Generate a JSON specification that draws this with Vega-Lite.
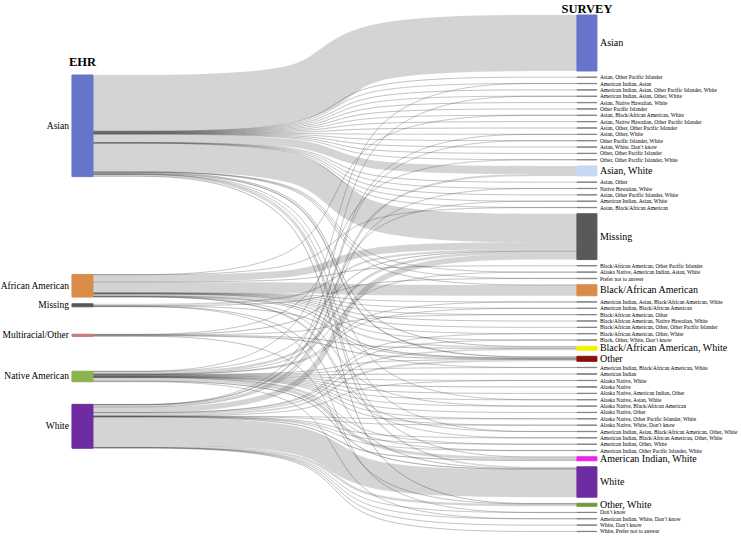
{
"$schema": "https://vega.github.io/schema/vega-lite/v6.json",
"width": 741, "height": 538, "padding": 0, "autosize": {"type": "none"},
"background": "white",
"config": {"view": {"stroke": null}, "font": "Liberation Serif"},
"datasets": {
"left": [
{"name": "Asian", "lo": 0}, {"name": "African American", "lo": 1}, {"name": "Missing", "lo": 2},
{"name": "Multiracial/Other", "lo": 3}, {"name": "Native American", "lo": 4}, {"name": "White", "lo": 5}],
"right": [
{"name": "Asian", "ro": 0},
{"name": "Asian, Other Pacific Islander", "ro": 1},
{"name": "American Indian, Asian", "ro": 2},
{"name": "American Indian, Asian, Other Pacific Islander, White", "ro": 3},
{"name": "American Indian, Asian, Other, White", "ro": 4},
{"name": "Asian, Native Hawaiian, White", "ro": 5},
{"name": "Other Pacific Islander", "ro": 6},
{"name": "Asian, Black/African American, White", "ro": 7},
{"name": "Asian, Native Hawaiian, Other Pacific Islander", "ro": 8},
{"name": "Asian, Other, Other Pacific Islander", "ro": 9},
{"name": "Asian, Other, White", "ro": 10},
{"name": "Other Pacific Islander, White", "ro": 11},
{"name": "Asian, White, Don’t know", "ro": 12},
{"name": "Other, Other Pacific Islander", "ro": 13},
{"name": "Other, Other Pacific Islander, White", "ro": 14},
{"name": "Asian, White", "ro": 15},
{"name": "Asian, Other", "ro": 16},
{"name": "Native Hawaiian, White", "ro": 17},
{"name": "Asian, Other Pacific Islander, White", "ro": 18},
{"name": "American Indian, Asian, White", "ro": 19},
{"name": "Asian, Black/African American", "ro": 20},
{"name": "Missing", "ro": 21},
{"name": "Black/African American, Other Pacific Islander", "ro": 22},
{"name": "Alaska Native, American Indian, Asian, White", "ro": 23},
{"name": "Prefer not to answer", "ro": 24},
{"name": "Black/African American", "ro": 25},
{"name": "American Indian, Asian, Black/African American, White", "ro": 26},
{"name": "American Indian, Black/African American", "ro": 27},
{"name": "Black/African American, Other", "ro": 28},
{"name": "Black/African American, Native Hawaiian, White", "ro": 29},
{"name": "Black/African American, Other, Other Pacific Islander", "ro": 30},
{"name": "Black/African American, Other, White", "ro": 31},
{"name": "Black, Other, White, Don’t know", "ro": 32},
{"name": "Black/African American, White", "ro": 33},
{"name": "Other", "ro": 34},
{"name": "American Indian, Black/African American, White", "ro": 35},
{"name": "American Indian", "ro": 36},
{"name": "Alaska Native, White", "ro": 37},
{"name": "Alaska Native", "ro": 38},
{"name": "Alaska Native, American Indian, Other", "ro": 39},
{"name": "Alaska Native, Asian, White", "ro": 40},
{"name": "Alaska Native, Black/African American", "ro": 41},
{"name": "Alaska Native, Other", "ro": 42},
{"name": "Alaska Native, Other Pacific Islander, White", "ro": 43},
{"name": "Alaska Native, White, Don’t know", "ro": 44},
{"name": "American Indian, Asian, Black/African American, Other, White", "ro": 45},
{"name": "American Indian, Black/African American, Other, White", "ro": 46},
{"name": "American Indian, Other, White", "ro": 47},
{"name": "American Indian, Other Pacific Islander, White", "ro": 48},
{"name": "American Indian, White", "ro": 49},
{"name": "White", "ro": 50},
{"name": "Other, White", "ro": 51},
{"name": "Don’t know", "ro": 52},
{"name": "American Indian, White, Don’t know", "ro": 53},
{"name": "White, Don’t know", "ro": 54},
{"name": "White, Prefer not to answer", "ro": 55}],
"links": [
{"s": "Asian", "t": "Asian", "v": 56},
{"s": "Asian", "t": "Asian, Other Pacific Islander", "v": 0.3},
{"s": "Asian", "t": "American Indian, Asian", "v": 0.15},
{"s": "Native American", "t": "American Indian, Asian", "v": 0.15},
{"s": "Asian", "t": "American Indian, Asian, Other Pacific Islander, White", "v": 0.3},
{"s": "Asian", "t": "American Indian, Asian, Other, White", "v": 0.15},
{"s": "White", "t": "American Indian, Asian, Other, White", "v": 0.15},
{"s": "Asian", "t": "Asian, Native Hawaiian, White", "v": 0.3},
{"s": "Asian", "t": "Other Pacific Islander", "v": 0.3},
{"s": "Asian", "t": "Asian, Black/African American, White", "v": 0.15},
{"s": "African American", "t": "Asian, Black/African American, White", "v": 0.15},
{"s": "Asian", "t": "Asian, Native Hawaiian, Other Pacific Islander", "v": 0.3},
{"s": "Asian", "t": "Asian, Other, Other Pacific Islander", "v": 0.3},
{"s": "Asian", "t": "Asian, Other, White", "v": 0.15},
{"s": "White", "t": "Asian, Other, White", "v": 0.15},
{"s": "Asian", "t": "Other Pacific Islander, White", "v": 0.15},
{"s": "White", "t": "Other Pacific Islander, White", "v": 0.15},
{"s": "Asian", "t": "Asian, White, Don’t know", "v": 0.3},
{"s": "Asian", "t": "Other, Other Pacific Islander", "v": 0.3},
{"s": "Asian", "t": "Other, Other Pacific Islander, White", "v": 0.15},
{"s": "Multiracial/Other", "t": "Other, Other Pacific Islander, White", "v": 0.15},
{"s": "Asian", "t": "Asian, White", "v": 8},
{"s": "White", "t": "Asian, White", "v": 2},
{"s": "Asian", "t": "Asian, Other", "v": 0.3},
{"s": "Asian", "t": "Native Hawaiian, White", "v": 0.15},
{"s": "White", "t": "Native Hawaiian, White", "v": 0.15},
{"s": "Asian", "t": "Asian, Other Pacific Islander, White", "v": 0.3},
{"s": "Asian", "t": "American Indian, Asian, White", "v": 0.15},
{"s": "Native American", "t": "American Indian, Asian, White", "v": 0.15},
{"s": "Asian", "t": "Asian, Black/African American", "v": 0.15},
{"s": "African American", "t": "Asian, Black/African American", "v": 0.15},
{"s": "Asian", "t": "Missing", "v": 28.5},
{"s": "African American", "t": "Missing", "v": 7},
{"s": "Missing", "t": "Missing", "v": 1.8},
{"s": "Multiracial/Other", "t": "Missing", "v": 0.5},
{"s": "Native American", "t": "Missing", "v": 2.5},
{"s": "White", "t": "Missing", "v": 5.5},
{"s": "African American", "t": "Black/African American, Other Pacific Islander", "v": 0.3},
{"s": "Native American", "t": "Alaska Native, American Indian, Asian, White", "v": 0.15},
{"s": "Asian", "t": "Alaska Native, American Indian, Asian, White", "v": 0.15},
{"s": "Asian", "t": "Prefer not to answer", "v": 0.1},
{"s": "Missing", "t": "Prefer not to answer", "v": 0.3},
{"s": "African American", "t": "Black/African American", "v": 10.7},
{"s": "Asian", "t": "Black/African American", "v": 0.3},
{"s": "African American", "t": "American Indian, Asian, Black/African American, White", "v": 0.15},
{"s": "Native American", "t": "American Indian, Asian, Black/African American, White", "v": 0.15},
{"s": "African American", "t": "American Indian, Black/African American", "v": 0.15},
{"s": "Native American", "t": "American Indian, Black/African American", "v": 0.15},
{"s": "African American", "t": "Black/African American, Other", "v": 0.15},
{"s": "Multiracial/Other", "t": "Black/African American, Other", "v": 0.15},
{"s": "African American", "t": "Black/African American, Native Hawaiian, White", "v": 0.3},
{"s": "African American", "t": "Black/African American, Other, Other Pacific Islander", "v": 0.3},
{"s": "African American", "t": "Black/African American, Other, White", "v": 0.15},
{"s": "White", "t": "Black/African American, Other, White", "v": 0.15},
{"s": "African American", "t": "Black, Other, White, Don’t know", "v": 0.15},
{"s": "White", "t": "Black, Other, White, Don’t know", "v": 0.15},
{"s": "Asian", "t": "Black/African American, White", "v": 0.5},
{"s": "African American", "t": "Black/African American, White", "v": 1.5},
{"s": "Multiracial/Other", "t": "Black/African American, White", "v": 0.5},
{"s": "White", "t": "Black/African American, White", "v": 1.5},
{"s": "Asian", "t": "Other", "v": 1.2},
{"s": "African American", "t": "Other", "v": 0.8},
{"s": "Missing", "t": "Other", "v": 0.4},
{"s": "Multiracial/Other", "t": "Other", "v": 0.6},
{"s": "Native American", "t": "Other", "v": 0.3},
{"s": "White", "t": "Other", "v": 1.7},
{"s": "African American", "t": "American Indian, Black/African American, White", "v": 0.15},
{"s": "Native American", "t": "American Indian, Black/African American, White", "v": 0.15},
{"s": "Native American", "t": "American Indian", "v": 0.6},
{"s": "Native American", "t": "Alaska Native, White", "v": 0.15},
{"s": "White", "t": "Alaska Native, White", "v": 0.15},
{"s": "Native American", "t": "Alaska Native", "v": 0.5},
{"s": "Native American", "t": "Alaska Native, American Indian, Other", "v": 0.3},
{"s": "Native American", "t": "Alaska Native, Asian, White", "v": 0.15},
{"s": "Asian", "t": "Alaska Native, Asian, White", "v": 0.15},
{"s": "Native American", "t": "Alaska Native, Black/African American", "v": 0.15},
{"s": "African American", "t": "Alaska Native, Black/African American", "v": 0.15},
{"s": "Native American", "t": "Alaska Native, Other", "v": 0.3},
{"s": "Native American", "t": "Alaska Native, Other Pacific Islander, White", "v": 0.15},
{"s": "White", "t": "Alaska Native, Other Pacific Islander, White", "v": 0.15},
{"s": "Native American", "t": "Alaska Native, White, Don’t know", "v": 0.15},
{"s": "White", "t": "Alaska Native, White, Don’t know", "v": 0.15},
{"s": "African American", "t": "American Indian, Asian, Black/African American, Other, White", "v": 0.15},
{"s": "Asian", "t": "American Indian, Asian, Black/African American, Other, White", "v": 0.15},
{"s": "African American", "t": "American Indian, Black/African American, Other, White", "v": 0.15},
{"s": "White", "t": "American Indian, Black/African American, Other, White", "v": 0.15},
{"s": "Native American", "t": "American Indian, Other, White", "v": 0.15},
{"s": "White", "t": "American Indian, Other, White", "v": 0.15},
{"s": "White", "t": "American Indian, Other Pacific Islander, White", "v": 0.15},
{"s": "Native American", "t": "American Indian, Other Pacific Islander, White", "v": 0.15},
{"s": "Native American", "t": "American Indian, White", "v": 3},
{"s": "White", "t": "American Indian, White", "v": 0.8},
{"s": "Asian", "t": "American Indian, White", "v": 0.2},
{"s": "White", "t": "White", "v": 27.5},
{"s": "Asian", "t": "White", "v": 1.5},
{"s": "Missing", "t": "White", "v": 0.4},
{"s": "Native American", "t": "White", "v": 1},
{"s": "White", "t": "Other, White", "v": 2.2},
{"s": "Multiracial/Other", "t": "Other, White", "v": 0.3},
{"s": "Asian", "t": "Other, White", "v": 0.5},
{"s": "White", "t": "Don’t know", "v": 0.15},
{"s": "Missing", "t": "Don’t know", "v": 0.1},
{"s": "White", "t": "American Indian, White, Don’t know", "v": 0.15},
{"s": "Native American", "t": "American Indian, White, Don’t know", "v": 0.15},
{"s": "White", "t": "White, Don’t know", "v": 0.3},
{"s": "White", "t": "White, Prefer not to answer", "v": 0.3}]
},
"data": {"name": "links"},
"transform": [
{"lookup": "t", "from": {"data": {"name": "right"}, "key": "name", "fields": ["ro"]}},
{"lookup": "s", "from": {"data": {"name": "left"}, "key": "name", "fields": ["lo"]}},
{"window": [{"op": "sum", "field": "v", "as": "cumR"}], "sort": [{"field": "ro"}, {"field": "lo"}], "frame": [null, 0]},
{"calculate": "datum.cumR + datum.ro * 6.05", "as": "rEnd"},
{"calculate": "datum.rEnd - datum.v / 2", "as": "rMid"},
{"calculate": "datum.rEnd - datum.v", "as": "rStart"},
{"calculate": "datum.v * datum.rMid", "as": "wy"},
{"joinaggregate": [{"op": "sum", "field": "v", "as": "sTot"}, {"op": "sum", "field": "wy", "as": "sWy"}], "groupby": ["s"]},
{"window": [{"op": "sum", "field": "v", "as": "cumL"}], "groupby": ["s"], "sort": [{"field": "ro"}], "frame": [null, 0]},
{"calculate": "datum.sWy / datum.sTot - datum.sTot / 2", "as": "sTop"},
{"calculate": "datum.sTop + datum.cumL - datum.v / 2", "as": "lMid"}
],
"layer": [
{
"transform": [
{"calculate": "datum.lMid", "as": "p0"}, {"calculate": "datum.lMid", "as": "p1"},
{"calculate": "datum.rMid", "as": "p2"}, {"calculate": "datum.rMid", "as": "p3"},
{"calculate": "datum.s + '|' + datum.t", "as": "id"},
{"fold": ["p0", "p1", "p2", "p3"], "as": ["k", "py"]},
{"calculate": "datum.k == 'p0' ? 0 : (datum.k == 'p3' ? 1 : 0.5)", "as": "px"}
],
"mark": {"type": "line", "interpolate": "basis", "stroke": "#000000", "strokeOpacity": 0.17, "strokeCap": "butt"},
"encoding": {
"x": {"field": "px", "type": "quantitative", "scale": {"domain": [-0.1921, 1.339], "nice": false, "zero": false}, "axis": null},
"y": {"field": "py", "type": "quantitative", "scale": {"domain": [-15, 523], "reverse": true, "nice": false, "zero": false}, "axis": null},
"size": {"field": "v", "type": "quantitative", "scale": {"type": "linear", "domain": [0, 100], "range": [0, 100], "zero": true}, "legend": null},
"detail": {"field": "id", "type": "nominal"},
"order": {"field": "k", "type": "ordinal"}
}
},
{
"transform": [
{"filter": "datum.v < 1.5"},
{"calculate": "datum.lMid", "as": "p0"}, {"calculate": "datum.lMid", "as": "p1"},
{"calculate": "datum.rMid", "as": "p2"}, {"calculate": "datum.rMid", "as": "p3"},
{"calculate": "datum.s + '|' + datum.t", "as": "id"},
{"fold": ["p0", "p1", "p2", "p3"], "as": ["k", "py"]},
{"calculate": "datum.k == 'p0' ? 0 : (datum.k == 'p3' ? 1 : 0.5)", "as": "px"}
],
"mark": {"type": "line", "interpolate": "basis", "stroke": "#333333", "strokeOpacity": 0.32, "strokeWidth": 0.8},
"encoding": {
"x": {"field": "px", "type": "quantitative", "scale": {"domain": [-0.1921, 1.339], "nice": false, "zero": false}, "axis": null},
"y": {"field": "py", "type": "quantitative", "scale": {"domain": [-15, 523], "reverse": true, "nice": false, "zero": false}, "axis": null},
"detail": {"field": "id", "type": "nominal"},
"order": {"field": "k", "type": "ordinal"}
}
},
{
"transform": [
{"aggregate": [{"op": "min", "field": "rStart", "as": "y0"}, {"op": "max", "field": "rEnd", "as": "y1"}], "groupby": ["t"]},
{"calculate": "indexof(['Asian','Asian, White','Missing','Black/African American','Black/African American, White','Other','American Indian, White','White','Other, White'], datum.t) >= 0 ? datum.t : '_small'", "as": "c"}
],
"mark": {"type": "rect", "strokeWidth": 1},
"encoding": {
"x": {"datum": 1, "type": "quantitative", "scale": {"domain": [-0.1921, 1.339], "nice": false, "zero": false}, "axis": null},
"x2": {"datum": 1.0413},
"y": {"field": "y0", "type": "quantitative", "scale": {"domain": [-15, 523], "reverse": true, "nice": false, "zero": false}, "axis": null},
"y2": {"field": "y1"},
"fill": {"field": "c", "type": "nominal", "legend": null, "scale": {"domain": ["Asian","African American","Missing","Multiracial/Other","Native American","White","Asian, White","Black/African American","Black/African American, White","Other","American Indian, White","Other, White","_small"], "range": ["#6674C9","#D98C48","#595959","#C47C7C","#8AB24F","#6E2BA2","#C8D7F2","#D98C48","#F2F200","#8B1111","#EE22EE","#6F9B3C","#858585"]}},
"stroke": {"field": "c", "type": "nominal", "legend": null, "scale": {"domain": ["Asian","African American","Missing","Multiracial/Other","Native American","White","Asian, White","Black/African American","Black/African American, White","Other","American Indian, White","Other, White","_small"], "range": ["#6674C9","#D98C48","#595959","#C47C7C","#8AB24F","#6E2BA2","#C8D7F2","#D98C48","#F2F200","#8B1111","#EE22EE","#6F9B3C","#858585"]}}
}
},
{
"transform": [
{"aggregate": [{"op": "min", "field": "sTop", "as": "y0"}, {"op": "min", "field": "sTot", "as": "tot"}], "groupby": ["s"]},
{"calculate": "datum.y0 + datum.tot", "as": "y1"}
],
"mark": {"type": "rect", "strokeWidth": 1},
"encoding": {
"x": {"datum": -0.0434, "type": "quantitative", "scale": {"domain": [-0.1921, 1.339], "nice": false, "zero": false}, "axis": null},
"x2": {"datum": 0},
"y": {"field": "y0", "type": "quantitative", "scale": {"domain": [-15, 523], "reverse": true, "nice": false, "zero": false}, "axis": null},
"y2": {"field": "y1"},
"fill": {"field": "s", "type": "nominal", "legend": null},
"stroke": {"field": "s", "type": "nominal", "legend": null}
}
},
{
"transform": [
{"aggregate": [{"op": "min", "field": "rStart", "as": "y0"}, {"op": "max", "field": "rEnd", "as": "y1"}], "groupby": ["t"]},
{"filter": "indexof(['Asian','Asian, White','Missing','Black/African American','Black/African American, White','Other','American Indian, White','White','Other, White'], datum.t) >= 0"},
{"calculate": "(datum.y0 + datum.y1) / 2", "as": "ym"}
],
"mark": {"type": "text", "align": "left", "baseline": "middle", "font": "Liberation Serif", "fontSize": 10, "dx": 3, "color": "#000000"},
"encoding": {
"x": {"datum": 1.0413, "type": "quantitative", "scale": {"domain": [-0.1921, 1.339], "nice": false, "zero": false}, "axis": null},
"y": {"field": "ym", "type": "quantitative", "scale": {"domain": [-15, 523], "reverse": true, "nice": false, "zero": false}, "axis": null},
"text": {"field": "t", "type": "nominal"}
}
},
{
"transform": [
{"aggregate": [{"op": "min", "field": "rStart", "as": "y0"}, {"op": "max", "field": "rEnd", "as": "y1"}], "groupby": ["t"]},
{"filter": "indexof(['Asian','Asian, White','Missing','Black/African American','Black/African American, White','Other','American Indian, White','White','Other, White'], datum.t) < 0"},
{"calculate": "(datum.y0 + datum.y1) / 2", "as": "ym"}
],
"mark": {"type": "text", "align": "left", "baseline": "middle", "font": "Liberation Serif", "fontSize": 5.4, "dx": 3, "color": "#000000"},
"encoding": {
"x": {"datum": 1.0413, "type": "quantitative", "scale": {"domain": [-0.1921, 1.339], "nice": false, "zero": false}, "axis": null},
"y": {"field": "ym", "type": "quantitative", "scale": {"domain": [-15, 523], "reverse": true, "nice": false, "zero": false}, "axis": null},
"text": {"field": "t", "type": "nominal"}
}
},
{
"transform": [
{"aggregate": [{"op": "min", "field": "sTop", "as": "y0"}, {"op": "min", "field": "sTot", "as": "tot"}], "groupby": ["s"]},
{"calculate": "datum.y0 + datum.tot / 2", "as": "ym"}
],
"mark": {"type": "text", "align": "right", "baseline": "middle", "font": "Liberation Serif", "fontSize": 9.5, "dx": -3, "color": "#000000"},
"encoding": {
"x": {"datum": -0.0434, "type": "quantitative", "scale": {"domain": [-0.1921, 1.339], "nice": false, "zero": false}, "axis": null},
"y": {"field": "ym", "type": "quantitative", "scale": {"domain": [-15, 523], "reverse": true, "nice": false, "zero": false}, "axis": null},
"text": {"field": "s", "type": "nominal"}
}
},
{
"transform": [{"aggregate": [{"op": "count", "as": "n"}]}],
"mark": {"type": "text", "text": "EHR", "align": "center", "baseline": "middle", "font": "Liberation Serif", "fontSize": 12.5, "fontWeight": "bold", "color": "#000000"},
"encoding": {
"x": {"datum": -0.0217, "type": "quantitative", "scale": {"domain": [-0.1921, 1.339], "nice": false, "zero": false}, "axis": null},
"y": {"datum": 47, "type": "quantitative", "scale": {"domain": [-15, 523], "reverse": true, "nice": false, "zero": false}, "axis": null}
}
},
{
"transform": [{"aggregate": [{"op": "count", "as": "n"}]}],
"mark": {"type": "text", "text": "SURVEY", "align": "center", "baseline": "middle", "font": "Liberation Serif", "fontSize": 12.5, "fontWeight": "bold", "color": "#000000"},
"encoding": {
"x": {"datum": 1.0207, "type": "quantitative", "scale": {"domain": [-0.1921, 1.339], "nice": false, "zero": false}, "axis": null},
"y": {"datum": -6, "type": "quantitative", "scale": {"domain": [-15, 523], "reverse": true, "nice": false, "zero": false}, "axis": null}
}
}
]
}
